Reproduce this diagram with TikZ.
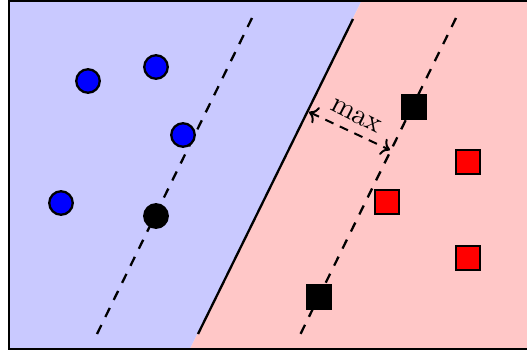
\documentclass[tikz,border=0pt]{standalone}
\usepackage{graphicx}
\usetikzlibrary{arrows.meta}
\begin{document}
\begin{tikzpicture}[x=1pt,y=-1pt,
  frame/.style={draw=black,line width=2.5pt},
  blueside/.style={fill=blue!21},
  redside/.style={fill=red!22},
  pt/.style={circle,draw=black,line width=2.3pt,fill=blue,minimum size=23.5pt,inner sep=0pt},
  ptsv/.style={circle,draw=black,line width=2.3pt,fill=black,minimum size=23.5pt,inner sep=0pt},
  sq/.style={rectangle,draw=black,line width=2.3pt,fill=red,minimum size=24.5pt,inner sep=0pt},
  sqsv/.style={rectangle,draw=black,line width=2.3pt,fill=black,minimum size=24.5pt,inner sep=0pt},
  sep/.style={line width=2.3pt},
  margin/.style={line width=2.3pt,dash pattern=on 10pt off 9pt},
  maxarrow/.style={line width=2pt,dash pattern=on 9pt off 7pt,{To[scale=1.4]}-{To[scale=1.4]}}]
\useasboundingbox (0,0) rectangle (527,356);
\begin{scope}
\clip (0,0) rectangle (527,356);
\fill[blueside] (9,0) -- (362,0) -- (190,349) -- (9,349) -- cycle;
\fill[redside] (362,0) -- (540,0) -- (540,349) -- (190,349) -- cycle;
\draw[frame] (9,0.5) rectangle (540,349);
\end{scope}
% lines
\coordinate (L1) at (252,18);
\coordinate (L2) at (97,334);
\coordinate (S1) at (353,19);
\coordinate (S2) at (198,334);
\coordinate (R1) at (456,18);
\coordinate (R2) at (300,335);
\draw[margin] (L1) -- (L2);
\draw[margin] (R1) -- (R2);
\draw[sep] (S1) -- (S2);
% points
\node[pt] (b1) at (88,81) {};
\node[pt] (b2) at (156,67) {};
\node[pt] (b3) at (183,135) {};
\node[pt] (b4) at (61,203) {};
\node[ptsv] (b5) at (156,216) {};
\node[sqsv] (r1) at (414,107) {};
\node[sq] (r2) at (468,162) {};
\node[sq] (r3) at (387,202) {};
\node[sq] (r4) at (468,258) {};
\node[sqsv] (r5) at (319,297) {};
% max arrow
\coordinate (A1) at (309,112);
\coordinate (A2) at (390,150);
\draw[maxarrow] (A1) -- (A2);
\node[rotate=-27,inner sep=0pt] (mx) at (356,116) {\scalebox{2.9}{max}};
\end{tikzpicture}
\end{document}
